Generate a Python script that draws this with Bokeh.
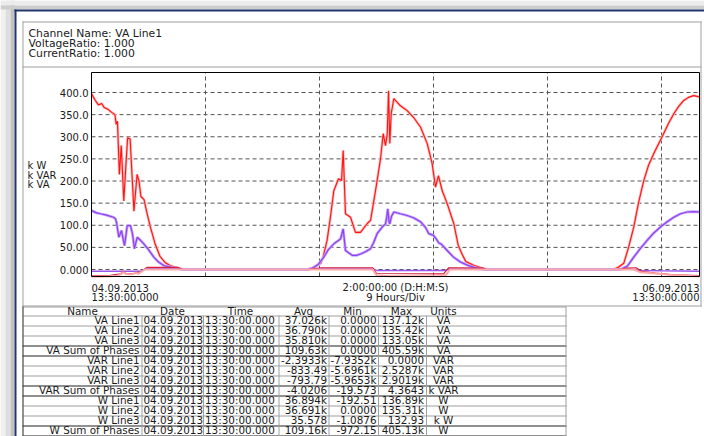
from bokeh.plotting import figure
from bokeh.models import Range1d
from bokeh.core.properties import value
from bokeh.embed import file_html
from bokeh.resources import INLINE

# ---------------- data ----------------
# hours since 04.09.2013 13:30:00
va_sum_h = [0.0, 0.3, 0.55, 0.8, 1.0, 1.3, 1.6, 1.85, 1.95, 2.05, 2.2, 2.35, 2.55, 2.7, 2.85, 3.05, 3.35, 3.6,
            3.75, 3.9, 4.15, 4.4, 4.65, 5.0, 5.4, 5.8, 6.2, 6.6, 7.0, 7.3,
            17.0, 17.3, 17.75, 18.1, 18.3, 18.6, 18.87, 19.13, 19.5, 19.74, 19.87, 20.05, 20.45, 20.84, 21.24,
            21.77, 22.03, 22.26, 22.55, 22.82, 23.03, 23.21, 23.35, 23.45, 23.55, 23.66, 23.87, 24.39, 24.92,
            25.42, 25.97, 26.5, 26.89, 27.16, 27.39, 27.69, 28.08, 28.6, 28.95, 29.25, 29.55, 30.2, 30.97, 31.3,
            41.2, 41.6, 42.02, 42.4, 42.81, 43.18, 43.6, 43.97, 44.39, 45.1, 45.55, 45.97, 46.34, 46.76, 47.13,
            47.55, 48.0]
va_sum_kva = [397, 382, 372, 375, 366, 362, 355, 350, 328, 335, 215, 280, 155, 228, 298, 295, 132, 215,
              200, 165, 158, 125, 96, 60, 30, 16, 9, 5, 2, 0,
              0, 2, 8, 14, 30, 66, 120, 178, 205, 201, 269, 126, 118, 84, 84,
              104, 111, 150, 201, 251, 307, 280, 307, 404, 285, 352, 386, 370, 359,
              344, 322, 285, 240, 186, 212, 178, 149, 104, 55, 35, 18, 9, 2, 0,
              0, 5, 14, 50, 96, 150, 201, 235, 262, 303, 330, 352, 368, 382, 389,
              393, 390]

va_l1_h = [0.0, 0.4, 0.71, 1.18, 1.74, 1.89, 1.97, 2.16, 2.37, 2.49, 2.61, 2.82, 3.08, 3.24, 3.39, 3.61, 3.87,
           4.13, 4.5, 4.92, 5.29, 5.71, 6.5, 7.03, 7.2,
           17.05, 17.45, 17.92, 18.34, 18.7, 19.13, 19.42, 19.66, 19.87, 20.05, 20.29, 20.58, 20.92, 21.24,
           21.63, 22.03, 22.26, 22.55, 22.95, 23.21, 23.29, 23.39, 23.49, 23.55, 23.68, 23.87, 24.39, 24.92,
           25.42, 25.97, 26.37, 26.63, 27.0, 27.24, 27.42, 27.63, 28.08, 28.58, 29.13, 29.66, 30.32, 30.95,
           41.76, 42.32, 42.81, 43.34, 43.87, 44.37, 44.92, 45.45, 45.97, 46.5, 47.03, 47.53, 48.0]
va_l1_kva = [133, 128, 126, 123, 118, 115, 107, 73, 88, 70, 54, 99, 99, 80, 47, 73, 66,
             58, 45, 28, 17, 9, 4, 1, 0,
             0, 3, 12, 28, 45, 58, 64, 69, 92, 43, 38, 32, 32, 35,
             40, 47, 60, 81, 96, 103, 115, 137, 108, 103, 120, 130, 126, 122,
             117, 108, 95, 81, 77, 68, 60, 57, 43, 28, 17, 10, 4, 0,
             0, 8, 28, 48, 66, 82, 96, 108, 118, 126, 130, 131, 130]

var_sum_h = [0, 0.8, 1.5, 2.0, 2.3, 2.5, 2.7, 3.2, 3.5, 3.7, 4.0, 4.2, 22.2, 22.5, 23.5, 27.5, 28.0, 28.3,
             42.8, 43.3, 44.5, 46, 48]
var_sum_k = [-16, -16, -15, -14, -11, -6, -10, -11, -7, -10, -4, 0, 0, -13, -15, -15, -12, 0,
             0, -6, -9, -13, -16]

var_l1_h = [0, 1.5, 2.3, 2.5, 2.7, 3.2, 3.5, 3.8, 4.1, 4.4, 6.8, 7.2, 17.2, 17.6, 18.2, 22.2, 22.5, 27.8,
            28.2, 30.9, 31.2, 41.6, 42.2, 43.0, 43.4, 44.5, 46, 48]
var_l1_k = [-14, -13, -10, -4, -9, -10, -8, -6, -1, 5, 5, 0, 0, 2, 4, 4, -9, -10,
            4, 3, 0, 0, 3, 4, -4, -8, -12, -14]

var_l2_h = [0, 3.9, 4.3, 4.6, 6.8, 7.2, 17.2, 18.0, 22.2, 22.5, 28.0, 28.3, 30.9, 31.2, 41.8, 42.5, 43.2,
            45, 48]
var_l2_k = [-4, -4, 2, 3, 3, 0, 0, 2, 2, -2, -2, 2, 2, 0, 0, 2, -2, -3, -4]

y_ticks = [0, 50, 100, 150, 200, 250, 300, 350, 400]
y_tick_labels = ["0.000", "50.00", "100.0", "150.0", "200.0", "250.0", "300.0", "350.0", "400.0"]
x_grid_hours = [9, 18, 27, 36, 45]
unit_labels = ["k W", "k VAR", "k VA"]
header_lines = ["Channel Name: VA Line1", "VoltageRatio: 1.000", "CurrentRatio: 1.000"]

col_headers = ["Name", "Date", "Time", "Avg", "Min", "Max", "Units"]
names = ["VA Line1", "VA Line2", "VA Line3", "VA Sum of Phases", "VAR Line1", "VAR Line2", "VAR Line3",
         "VAR Sum of Phases", "W Line1", "W Line2", "W Line3", "W Sum of Phases"]
dates = ["04.09.2013"] * 12
times = ["13:30:00.000"] * 12
avgs = ["37.026k", "36.790k", "35.810k", "109.63k", "-2.3933k", "-833.49", "-793.79", "-4.0206",
        "36.894k", "36.691k", "35.578", "109.16k"]
mins = ["0.0000", "0.0000", "0.0000", "0.0000", "-7.9352k", "-5.6961k", "-5.9653k", "-19.573",
        "-192.51", "0.0000", "-1.0876", "-972.15"]
maxs = ["137.12k", "135.42k", "133.05k", "405.59k", "0.0000", "2.5287k", "2.9019k", "4.3643",
        "136.89k", "135.31k", "132.93", "405.13k"]
units = ["VA", "VA", "VA", "VA", "VAR", "VAR", "VAR", "k VAR", "W", "W", "k W", "W"]

# ---------------- layout constants (page pixels) ----------------
W, H = 704, 436
PL, PR, PT, PB = 91, 699, 72, 276          # plot frame in page pixels
T0, T1 = 0.0, 48.0                          # hours shown
V0, V1 = -15.8, 445.2                       # value range shown
FONT = value("DejaVu Sans")
TXT = "#1a1a1a"
GR = "#a0a0a0"

# chart scales mapped onto the page
hx = (PR - PL) / (T1 - T0)
vy = (PB - PT) / (V1 - V0)
t_range = Range1d(T0 - PL / hx, T1 + (W - PR) / hx)
v_range = Range1d(V0 - (H - PB) / vy, V1 + PT / vy)

p = figure(width=W, height=H, output_backend="svg", toolbar_location=None,
           x_range=Range1d(0, W), y_range=Range1d(H, 0),
           min_border=0, min_border_left=0, min_border_right=0, min_border_top=0, min_border_bottom=0)
p.extra_x_ranges = {"t": t_range}
p.extra_y_ranges = {"v": v_range}
p.axis.visible = False
p.grid.visible = False
p.outline_line_color = None
p.background_fill_color = "white"
p.border_fill_color = "white"


def box(x0, y0, x1, y1, color):
    p.quad(left=[x0], right=[x1], top=[y0], bottom=[y1], fill_color=color, line_color=None)


def txt(xs, ys, texts, align="left", size="10.4px", baseline="middle", **kw):
    p.text(x=xs, y=ys, text=texts, text_align=align, text_baseline=baseline, text_font=FONT,
           text_font_size=value(size), text_color=TXT, **kw)


# window shadow + border
box(0, 0, 5, H, "#f0f0f0")
box(5, 0, 10, H, "#dedede")
box(10, 0, 14, H, "#c2c2c2")
box(0, 0, W, 5, "#ececec")
box(0, 5, W, 9, "#cdcdcd")
box(14, 9, W, 11, "#22356c")
box(14, 9, 16, H, "#22356c")

# panel boxes
box(22, 21, 701, 22, GR)
box(22, 66, 701, 67, GR)
box(22, 21, 23, H, GR)
box(700, 21, 701, 306, GR)
box(22, 305, 701, 306, GR)

txt([28, 28, 28], [32.5, 42.7, 52.9], header_lines, size="10.8px", baseline="alphabetic")

# ---- chart (drawn through hour / kVA scales) ----
grid_kw = dict(line_color="#555555", line_dash="4 3", line_width=1, x_range_name="t", y_range_name="v")
p.segment(x0=x_grid_hours, x1=x_grid_hours, y0=[V0] * len(x_grid_hours), y1=[V1] * len(x_grid_hours), **grid_kw)
p.segment(x0=[T0] * len(y_ticks), x1=[T1] * len(y_ticks), y0=y_ticks, y1=y_ticks, **grid_kw)

lk = dict(x_range_name="t", y_range_name="v")
p.line(va_sum_h, va_sum_kva, line_color="#ffb3b3", line_width=2.6, **lk)
p.line(va_sum_h, va_sum_kva, line_color="#ff1414", line_width=1.1, **lk)
p.line(va_l1_h, va_l1_kva, line_color="#c4a8ff", line_width=2.8, **lk)
p.line(va_l1_h, va_l1_kva, line_color="#9140ee", line_width=1.2, **lk)
p.line(var_l2_h, var_l2_k, line_color="#9955ee", line_width=1.5, **lk)
p.line(var_l1_h, var_l1_k, line_color="#d8203a", line_width=1.2, **lk)
p.line(var_sum_h, var_sum_k, line_color="#ffa8a8", line_width=2.0, **lk)

# frame
p.quad(left=[T0], right=[T1], bottom=[V0], top=[V1], fill_color=None, line_color="black", line_width=1, **lk)

# y tick labels
label_off = -3 / hx
txt([T0 + label_off] * len(y_ticks), y_ticks, y_tick_labels, align="right", size="10px", **lk)

# unit labels
txt([27, 27, 27], [165, 174.5, 184], unit_labels, size="10px")

# x labels (x in hours, y in page pixels)
txt([T0, T0], [287, 297], ["04.09.2013", "13:30:00.000"], align="left", size="10px", x_range_name="t")
txt([24, 24], [287, 297], ["2:00:00:00 (D:H:M:S)", "9 Hours/Div"], align="center", size="10px", x_range_name="t")
txt([T1, T1], [287, 297], ["06.09.2013", "13:30:00.000"], align="right", size="10px", x_range_name="t")

# ---------------- table ----------------
T_LEFT, T_RIGHT = 22, 566
T_TOP = 306
HDR_BOTTOM = 315
ROW_H = 10.0
col_edges = [141, 202.5, 278, 328, 377.5, 425.5]
dark_rows = {3, 4, 7, 8, 11, 12}

box(T_LEFT, T_TOP, T_RIGHT, T_TOP + 1, GR)
box(T_LEFT, HDR_BOTTOM, T_RIGHT, HDR_BOTTOM + 1, GR)
for i in range(1, 13):
    yy = HDR_BOTTOM + i * ROW_H
    box(T_LEFT, yy, T_RIGHT, yy + 1, "#222222" if i in dark_rows else GR)
for xe in col_edges:
    box(xe, HDR_BOTTOM, xe + 1, H, GR)
box(T_RIGHT - 1, T_TOP, T_RIGHT, H, GR)
box(T_LEFT, T_TOP, T_LEFT + 1, H, "#555555")

hdr_x = [82, 172, 240, 303, 352, 401, 443]
txt(hdr_x, [310.6] * 7, col_headers, align="center")

row_y = [HDR_BOTTOM + 4.5 + i * ROW_H for i in range(12)]
txt([139] * 12, row_y, names, align="right")
txt([143] * 12, row_y, dates, align="left")
txt([204.5] * 12, row_y, times, align="left")
txt([326.5] * 12, row_y, avgs, align="right")
txt([376] * 12, row_y, mins, align="right")
txt([423.5] * 12, row_y, maxs, align="right")
txt([443] * 12, row_y, units, align="center")

open("out.html", "w").write(file_html(p, INLINE))
